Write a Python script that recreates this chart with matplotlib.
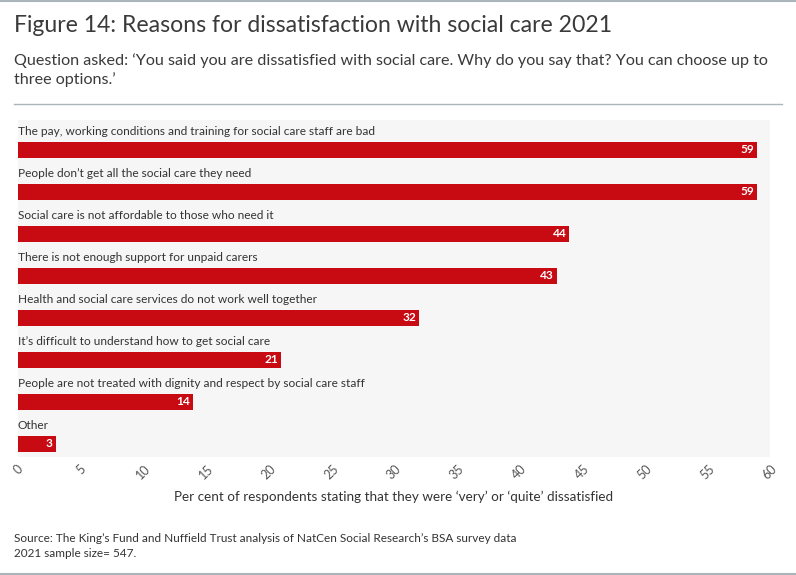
import matplotlib.pyplot as plt
from matplotlib.lines import Line2D

plt.rcParams['font.family'] = ['Lato', 'DejaVu Sans']

reasons = [
    "The pay, working conditions and training for social care staff are bad",
    "People don\u2019t get all the social care they need",
    "Social care is not affordable to those who need it",
    "There is not enough support for unpaid carers",
    "Health and social care services do not work well together",
    "It\u2019s difficult to understand how to get social care",
    "People are not treated with dignity and respect by social care staff",
    "Other",
]
values = [59, 59, 44, 43, 32, 21, 14, 3]
ticks = list(range(0, 61, 5))

W, H = 796, 575
fig = plt.figure(figsize=(W / 100, H / 100), dpi=100)
fig.patch.set_facecolor('white')

def fx(px):
    return px / W

def fy(py):
    return 1 - py / H

# frame lines
fig.add_artist(Line2D([0, 1], [fy(1), fy(1)], color='#a9b4bb', lw=1.5))
fig.add_artist(Line2D([0, 1], [fy(574), fy(574)], color='#a9b4bb', lw=1.5))
fig.add_artist(Line2D([fx(14), fx(782)], [fy(104), fy(104)], color='#a9b4bb', lw=1))

fig.text(fx(14), fy(25), "Figure 14: Reasons for dissatisfaction with social care 2021",
         fontsize=16.6, color='#3a3a3a', va='center', ha='left')
fig.text(fx(14), fy(70),
         "Question asked: \u2018You said you are dissatisfied with social care. Why do you say that? You can choose up to\nthree options.\u2019",
         fontsize=11.65, color='#3a3a3a', va='center', ha='left', linespacing=1.35)

ax = fig.add_axes([fx(18), fy(457), fx(770) - fx(18), fy(120) - fy(457)])
ax.set_facecolor('#f6f6f6')
ax.set_xlim(0, 60)
ax.set_ylim(7.31, -0.714)

y = list(range(len(values)))
ax.barh(y, values, height=0.38, color='#c80a12', edgecolor='none')
for i, (r, v) in enumerate(zip(reasons, values)):
    ax.text(0, i - 0.43, r, fontsize=8.6, color='#333333', va='center', ha='left')
    ax.text(v - 0.25, i, str(v), fontsize=8.6, color='white', fontweight='bold',
            va='center', ha='right')

for s in ax.spines.values():
    s.set_visible(False)
ax.set_yticks([])
ax.set_xticks(ticks)
ax.set_xticklabels([str(t) for t in ticks], rotation=45, ha='center', va='top',
                   fontsize=9, color='#555555')
ax.tick_params(axis='x', length=0, pad=4)

fig.text(fx(394), fy(497),
         "Per cent of respondents stating that they were \u2018very\u2019 or \u2018quite\u2019 dissatisfied",
         fontsize=9.75, color='#333333', ha='center', va='center')

fig.text(fx(14), fy(546),
         "Source: The King\u2019s Fund and Nuffield Trust analysis of NatCen Social Research\u2019s BSA survey data\n2021 sample size= 547.",
         fontsize=8.5, color='#333333', ha='left', va='center', linespacing=1.45)

fig.savefig('out.png', dpi=100)
